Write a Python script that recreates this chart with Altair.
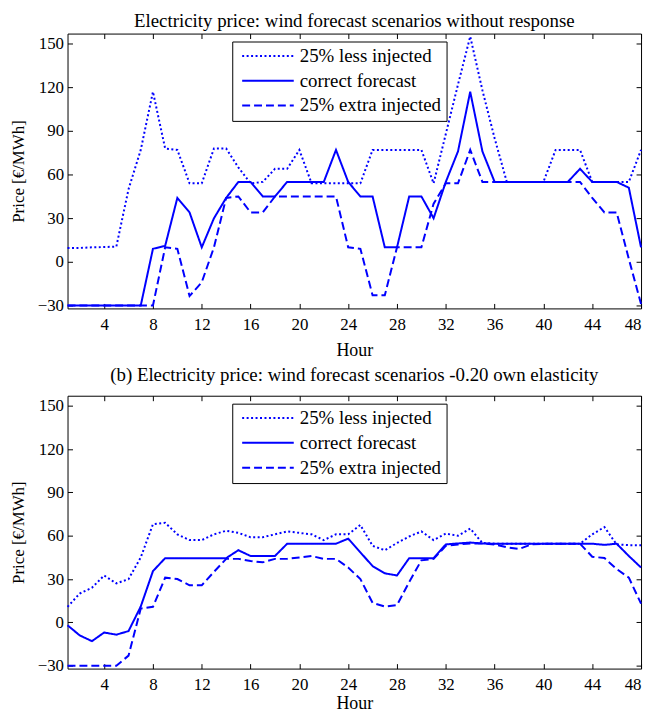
import altair as alt
import pandas as pd

hours = list(range(1, 49))
series_names = ["25% less injected", "correct forecast", "25% extra injected"]

# Panel (a): without response
a_less = [9.5, 9.6, 10, 10.2, 10.5, 50, 77, 117, 78, 77, 54, 54, 78, 78, 65, 54,
          55, 64, 64, 77, 54, 54, 54, 54, 54, 77, 77, 77, 77, 77, 54, 88,
          122, 155, 118, 85, 55, 55, 55, 55, 77, 77, 77, 55, 55, 55, 55, 77]
a_correct = [-30, -30, -30, -30, -30, -30, -30, 9, 11, 44, 34, 10, 30, 44, 55, 55,
             45, 45, 55, 55, 55, 55, 77, 55, 45, 45, 10, 10, 45, 45, 30, 55,
             76, 117, 76, 55, 55, 55, 55, 55, 55, 55, 64, 55, 55, 55, 51, 10]
a_extra = [-30, -30, -30, -30, -30, -30, -30, -30, 10, 9, -23.5, -14, 10, 44, 45, 34,
           34, 45, 45, 45, 45, 45, 45, 10, 9, -23, -23, 10, 10, 10, 40, 54,
           54, 77, 55, 55, 55, 55, 55, 55, 55, 55, 55, 44, 34, 34, 2, -29]

# Panel (b): -0.20 own elasticity
b_less = [10.8, 20, 24, 32.5, 27, 30, 45, 68, 69, 61, 57, 57, 61, 63.5, 62, 59,
          59, 61, 63, 62, 61, 57, 61, 61, 67.5, 53, 50, 55, 59.5, 63, 57, 61.5,
          60, 65, 55, 54.5, 54.5, 54.5, 54.5, 54.5, 54.5, 54.5, 54.5, 61, 66, 54, 53.5, 53.5]
b_correct = [-2, -9, -13, -7, -8.5, -6, 11, 35.5, 44.5, 44.5, 44.5, 44.5, 44.5, 44.5, 50, 46,
             46, 46, 54.5, 54.5, 54.5, 54.5, 54.5, 58, 48.5, 39, 34, 32.5, 44.5, 44.5, 44.5, 54,
             54.7, 55.3, 54.7, 54.5, 54.5, 54.5, 54.5, 54.5, 54.5, 54.5, 54.5, 54.5, 53.7, 54.5, 46, 38]
b_extra = [-30, -30, -30, -30, -30, -23, 9.6, 10.8, 31, 30, 25.7, 25.7, 35, 44, 44, 42.5,
           41.6, 44, 44, 45, 46, 44, 44, 38, 30, 13.5, 11, 12, 28, 43, 44, 53,
           54, 54.7, 54.7, 54, 52, 50.8, 54, 54.5, 54.5, 54.5, 54.5, 45.5, 44.6, 37, 31, 13]

x_ticks = [4, 8, 12, 16, 20, 24, 28, 32, 36, 40, 44, 48]
y_ticks = [-30, 0, 30, 60, 90, 120, 150]

FONT = "Liberation Serif"
BLUE = "#0000FF"
W = 578


def make_df(less, correct, extra):
    rows = []
    for name, vals in zip(series_names, [less, correct, extra]):
        for h, v in zip(hours, vals):
            rows.append({"hour": h, "price": v, "series": name})
    return pd.DataFrame(rows)


def panel(df, title, height, hour_pad, title_offset):
    xs = alt.Scale(domain=[1, 48], nice=False, zero=False)
    ys = alt.Scale(domain=[-32, 157], nice=False, zero=False)
    lines = alt.Chart(df).mark_line(strokeWidth=2, color=BLUE).encode(
        x=alt.X("hour:Q", scale=xs, title="Hour",
                axis=alt.Axis(values=x_ticks, orient="bottom", offset=-5, tickSize=5,
                              labelPadding=8, domain=False, grid=False,
                              tickColor="black", titlePadding=hour_pad,
                              labelFont=FONT, labelFontSize=17, labelColor="black",
                              titleFont=FONT, titleFontSize=18, titleFontWeight="normal",
                              titleColor="black")),
        y=alt.Y("price:Q", scale=ys, title="Price [€/MWh]",
                axis=alt.Axis(values=y_ticks, orient="left", offset=-5, tickSize=5,
                              labelPadding=4, domain=False, grid=False,
                              tickColor="black", titlePadding=10,
                              labelFont=FONT, labelFontSize=17, labelColor="black",
                              titleFont=FONT, titleFontSize=17, titleFontWeight="normal",
                              titleColor="black")),
        strokeDash=alt.StrokeDash(
            "series:N",
            scale=alt.Scale(domain=series_names, range=[[2, 2.5], [1, 0], [8, 4]]),
            sort=series_names,
            legend=alt.Legend(title=None, orient="none", legendX=166, legendY=8,
                              symbolType="stroke", symbolSize=2704,
                              symbolStrokeWidth=2, symbolStrokeColor=BLUE,
                              symbolOffset=4,
                              strokeColor="black", fillColor="white", padding=5,
                              labelFont=FONT, labelFontSize=19, labelColor="black",
                              labelOffset=5, clipHeight=19, rowPadding=5)),
        order="hour:Q",
    )
    ghost = alt.Chart(df).mark_line(opacity=0).encode(
        x=alt.X("hour:Q", scale=xs, title=None,
                axis=alt.Axis(values=x_ticks, orient="top", offset=-5, tickSize=5,
                              labels=False, domain=False, grid=False, tickColor="black")),
        y=alt.Y("price:Q", scale=ys, title=None,
                axis=alt.Axis(values=y_ticks, orient="right", offset=-5, tickSize=5,
                              labels=False, domain=False, grid=False, tickColor="black")),
        detail="series:N",
    )
    return alt.layer(lines, ghost).resolve_axis(x="independent", y="independent").properties(
        width=W, height=height,
        title=alt.TitleParams(title, font=FONT, fontSize=19, fontWeight="normal",
                              color="black", offset=title_offset),
    )


top = panel(make_df(a_less, a_correct, a_extra),
            "Electricity price: wind forecast scenarios without response", 277, 9, 2)
bottom = panel(make_df(b_less, b_correct, b_extra),
               "(b)  Electricity price: wind forecast scenarios -0.20 own elasticity", 275, 2, 10)

chart = alt.vconcat(top, bottom, spacing=6, background="white",
                    padding={"left": 0, "top": 0, "right": 0, "bottom": 0}).resolve_scale(
    strokeDash="independent"
).resolve_legend(strokeDash="independent").configure_view(
    stroke="black", strokeWidth=1
)

chart.save("out.html", embed_options={"renderer": "svg", "actions": False})
